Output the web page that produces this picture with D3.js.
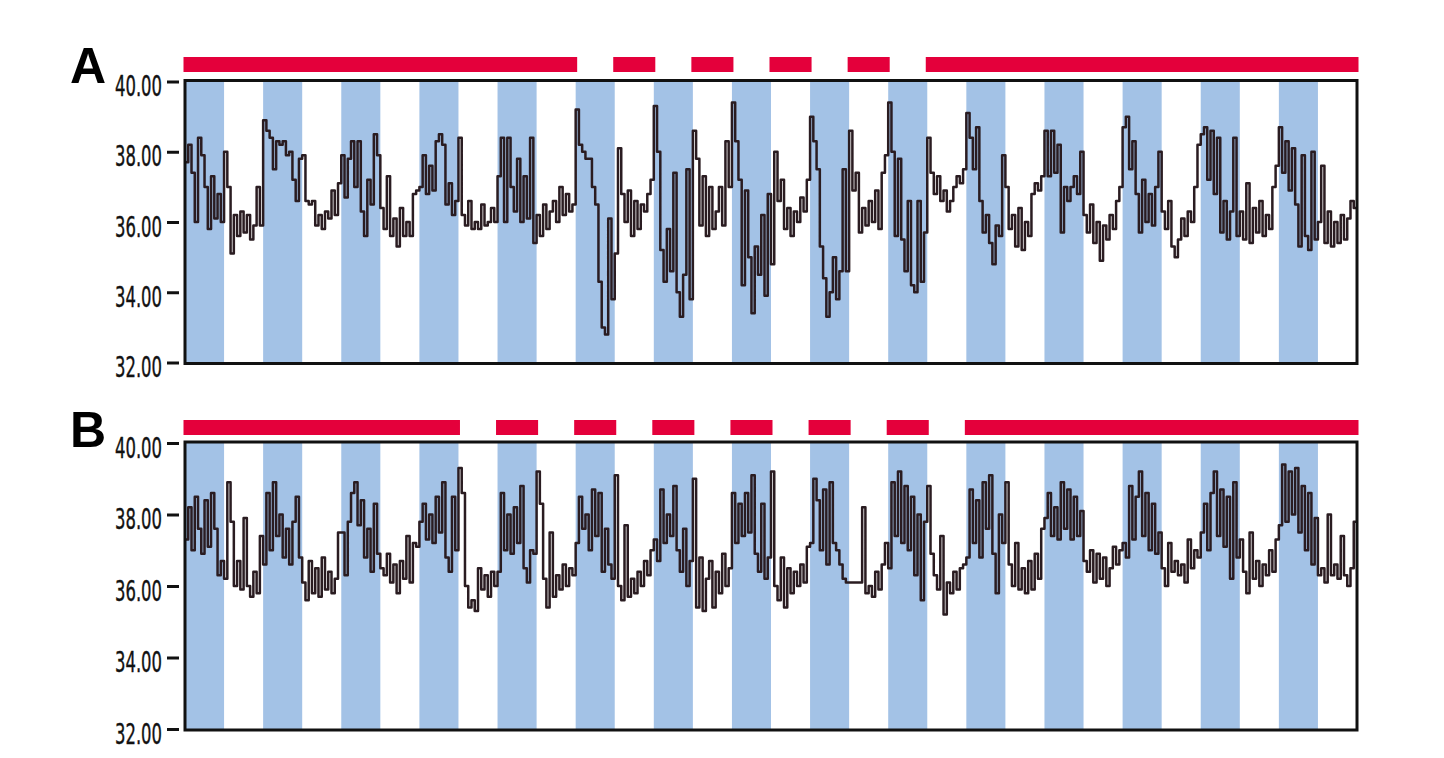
<!DOCTYPE html>
<html>
<head>
<meta charset="utf-8">
<script src="https://cdn.jsdelivr.net/npm/d3@7"></script>
<style>
  body { margin: 0; background: #fff; }
</style>
</head>
<body>
<svg id="chart" width="1444" height="758"></svg>
<script>
// hourly body temperature, 15 days per panel (24 values per row = 1 day)
let tempA = [
  37.7,38.2,37.4,36.0,38.4,37.9,37.0,35.8,37.3,36.1,36.8,36.0,38.0,37.0,35.1,36.2,35.6,36.3,35.7,36.2,35.5,35.9,37.0,35.9,
  38.9,38.6,38.4,37.5,38.3,38.2,38.3,37.9,38.0,37.2,36.6,37.8,37.9,36.6,36.5,36.6,35.9,36.2,35.8,36.3,36.1,36.9,36.2,37.1,
  37.9,36.7,37.8,38.3,37.0,38.3,36.3,35.6,37.2,36.5,38.5,37.9,36.4,35.8,37.3,35.6,36.1,35.3,36.4,35.6,36.0,35.6,36.8,36.9,
  37.0,37.9,36.8,37.6,36.9,38.3,38.5,38.2,36.5,37.1,36.2,36.6,38.4,36.2,35.9,36.6,35.8,36.0,35.8,36.5,35.9,36.0,36.4,36.0,
  37.3,38.4,36.0,38.4,37.0,36.3,37.8,36.0,37.3,36.1,38.4,35.4,36.2,35.6,36.5,35.8,36.3,36.6,36.0,37.0,36.2,36.8,36.3,36.5,
  39.2,38.2,38.0,37.8,37.8,37.0,36.5,34.3,33.0,32.8,36.1,33.8,35.1,38.1,36.8,36.0,36.9,35.6,36.6,35.8,36.5,36.3,36.8,37.2,
  39.3,38.0,35.2,34.3,35.8,34.6,37.4,34.0,33.3,34.5,37.5,33.8,38.6,37.8,35.9,37.3,35.6,37.0,35.8,36.3,37.0,35.9,38.3,37.0,
  39.4,38.3,37.2,34.2,36.9,35.0,33.4,35.3,34.5,36.2,33.9,36.8,34.8,38.0,36.6,37.2,35.8,36.4,35.6,36.3,36.0,36.7,36.3,37.2,
  39.0,38.3,37.5,35.3,34.4,33.3,34.0,35.0,33.8,34.6,37.5,34.6,38.6,36.9,37.4,35.7,36.4,35.9,36.6,36.0,36.9,35.8,37.4,37.9,
  39.4,38.0,35.6,37.8,35.5,34.6,36.6,34.2,34.0,36.6,34.3,35.7,38.4,37.4,36.8,37.3,36.6,36.9,36.3,36.6,37.0,37.3,37.1,37.5,
  39.1,38.4,37.5,38.7,36.6,35.7,36.2,35.4,34.8,35.9,35.6,37.9,37.0,35.8,36.2,35.3,36.4,35.2,36.0,35.6,36.8,37.1,36.9,37.3,
  38.6,37.3,38.6,37.4,38.2,35.7,37.0,36.6,37.0,37.3,36.8,38.0,36.2,35.7,36.5,35.4,36.0,34.9,35.9,35.5,36.2,35.8,36.6,37.0,
  38.7,39.0,37.5,38.3,36.8,35.7,37.2,36.0,36.8,35.9,37.0,38.0,36.3,35.8,36.6,35.3,35.0,35.5,36.1,35.6,36.3,36.0,37.0,38.2,
  38.5,38.7,37.2,38.6,36.8,38.4,35.7,36.6,35.5,36.3,38.4,35.6,36.3,35.5,37.1,35.4,36.4,35.7,36.6,35.6,36.2,35.8,37.0,37.6,
  38.7,37.4,38.3,36.9,38.1,36.5,35.3,37.9,35.6,35.2,38.0,35.5,36.0,37.6,35.4,36.3,35.3,36.0,35.4,36.2,35.5,36.1,36.6,36.4
];

let tempB = [
  37.3,38.2,37.0,38.5,37.6,36.9,38.4,37.1,38.6,37.6,36.3,36.7,36.2,38.9,37.8,36.0,36.7,35.9,37.9,36.0,35.7,36.4,35.8,37.4,
  36.6,38.6,37.0,38.9,37.4,38.0,36.8,37.6,36.6,37.8,38.5,36.8,36.1,35.6,36.7,35.8,36.5,35.7,36.8,35.9,36.4,35.8,36.2,37.5,
  37.5,36.3,37.8,38.6,38.9,37.7,38.4,36.8,37.6,36.4,38.3,36.9,36.5,36.3,36.9,36.1,36.6,35.8,36.7,36.2,37.4,36.1,37.2,37.1,
  37.8,38.3,37.3,38.0,37.2,38.5,37.5,38.9,36.8,36.4,38.5,37.0,39.3,38.6,36.0,35.4,35.6,35.3,36.5,35.9,36.3,35.7,36.4,36.0,
  36.4,38.6,37.0,38.0,36.9,38.2,37.2,38.8,36.5,36.1,37.0,36.9,39.2,38.3,36.2,35.4,37.5,35.7,36.3,35.9,36.6,36.0,36.5,36.3,
  37.2,38.5,37.6,38.0,37.0,38.7,37.4,38.6,36.4,37.6,36.6,36.2,39.1,36.0,35.6,37.7,35.7,36.2,35.8,36.4,36.0,36.7,36.3,37.0,
  37.3,36.7,38.7,37.2,38.0,37.4,38.8,37.0,36.4,37.6,36.0,36.7,39.0,35.4,36.8,35.3,36.2,36.7,35.4,36.4,35.8,36.9,36.0,36.5,
  38.6,37.2,38.3,37.4,38.6,37.5,39.1,36.9,36.4,38.3,36.2,36.8,39.2,36.0,35.6,36.8,35.4,36.5,35.8,36.4,36.0,36.6,36.1,37.1,
  37.2,39.0,38.4,37.0,38.7,36.6,38.9,37.2,37.0,36.6,36.2,36.1,36.1,36.1,36.1,36.1,38.2,35.8,36.0,35.7,36.4,35.9,36.6,37.2,
  36.5,38.9,37.4,39.2,37.2,38.8,37.0,38.5,36.3,38.0,35.6,37.8,38.8,36.9,36.3,35.9,37.4,35.2,36.1,35.8,36.4,35.9,36.5,36.6,
  36.8,38.7,37.2,38.4,36.8,38.9,37.6,39.1,36.9,35.8,38.0,37.2,38.9,36.6,36.0,37.2,35.9,36.5,35.8,36.7,35.9,36.9,36.2,37.6,
  37.9,38.6,37.4,38.2,37.3,38.9,37.6,38.7,37.3,38.5,37.4,38.1,36.7,36.4,37.0,36.1,36.9,36.2,36.8,36.0,36.5,37.1,36.6,37.0,
  37.2,36.8,38.8,37.3,38.5,39.2,37.4,38.6,37.0,38.3,36.9,37.5,36.5,36.0,37.2,36.4,36.7,36.3,36.6,36.1,37.3,36.5,37.0,36.8,
  37.5,38.3,37.0,38.6,39.2,37.4,38.7,37.1,38.5,36.2,38.9,36.8,37.3,36.4,35.8,37.5,36.2,36.7,36.0,36.6,36.3,37.0,36.4,37.3,
  37.7,39.4,37.8,39.2,38.0,39.3,37.5,38.8,37.0,38.6,36.6,37.9,36.3,36.5,36.1,38.0,36.3,36.6,36.2,37.4,36.3,36.0,36.5,37.8
];

// light periods (red bars), in days from start
let lightA = [[0, 5], [5.5, 6], [6.5, 7], [7.5, 8], [8.5, 9], [9.5, 15]];
let lightB = [[0, 3.5], [4, 4.5], [5, 5.5], [6, 6.5], [7, 7.5], [8, 8.5], [9, 9.5], [10, 15]];

let days = 15;
let yTicks = [32, 34, 36, 38, 40];

let svg = d3.select('#chart');
let x = d3.scaleLinear().domain([0, days * 24]).range([185, 1357]);

drawPanel('A', tempA, lightA, 81.5, 362.5, 57, 83);
drawPanel('B', tempB, lightB, 443, 729, 420, 447);

function drawPanel(label, temps, lights, top, bottom, barY, labelY) {
  let y = d3.scaleLinear().domain([32, 40]).range([bottom, top]);
  let g = svg.append('g');

  // dark phase stripes
  g.selectAll('.stripe')
    .data(d3.range(days))
    .enter()
    .append('rect')
      .attr('class', 'stripe')
      .attr('x', d => x(d * 24))
      .attr('y', top)
      .attr('width', d => x(d * 24 + 12) - x(d * 24))
      .attr('height', bottom - top)
      .attr('fill', '#a3c2e6');

  // light bars on top
  g.selectAll('.light')
    .data(lights)
    .enter()
    .append('rect')
      .attr('class', 'light')
      .attr('x', d => x(d[0] * 24) - 1.5)
      .attr('y', barY)
      .attr('width', d => x(d[1] * 24) - x(d[0] * 24) + 3)
      .attr('height', 15)
      .attr('fill', '#e4003b');

  let series = temps.concat([temps[temps.length - 1]]);
  let line = d3.line()
    .x((d, i) => x(i))
    .y(d => y(d))
    .curve(d3.curveStepAfter);

  g.append('path')
    .datum(series)
    .attr('d', line)
    .attr('fill', 'none')
    .attr('stroke', '#2a1c21')
    .attr('stroke-width', 2.5)
    .attr('stroke-linejoin', 'round');

  // frame
  g.append('rect')
    .attr('x', 185)
    .attr('y', top - 1)
    .attr('width', 1357 - 185)
    .attr('height', bottom - top + 2)
    .attr('fill', 'none')
    .attr('stroke', '#111')
    .attr('stroke-width', 3);

  let axis = d3.axisLeft(y)
    .tickValues(yTicks)
    .tickSize(12)
    .tickPadding(5)
    .tickFormat(d3.format('.2f'));

  let ax = g.append('g')
    .attr('transform', 'translate(179,0)')
    .call(axis);
  ax.select('.domain').remove();
  ax.selectAll('line')
    .attr('stroke', '#111')
    .attr('stroke-width', 3);
  ax.selectAll('text')
    .attr('dy', '0.5em')
    .attr('fill', '#111')
    .attr('stroke', '#111')
    .attr('stroke-width', 0.4)
    .attr('textLength', 47)
    .attr('lengthAdjust', 'spacingAndGlyphs')
    .style('font-family', '"Liberation Sans Narrow", "DejaVu Sans Condensed", sans-serif')
    .style('font-size', '28px');

  g.append('text')
    .attr('x', 70)
    .attr('y', labelY)
    .text(label)
    .style('font-family', '"Liberation Sans", Arial, sans-serif')
    .style('font-weight', 'bold')
    .style('font-size', '50px')
    .attr('fill', '#000');
}
</script>
</body>
</html>
